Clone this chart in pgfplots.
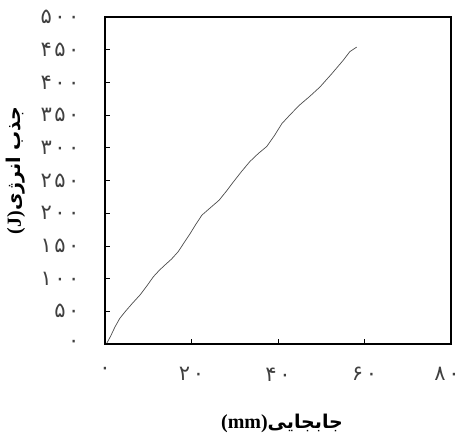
\documentclass[border=0pt]{standalone}
\usepackage{fontspec}
\setmainfont{Liberation Serif}
\newfontfamily\arabicfont[Script=Arabic]{DejaVu Sans}
\newfontfamily\digitfont[LetterSpace=12]{DejaVu Sans}
\TeXXeTstate=1
\usepackage{pgfplots}
\pgfplotsset{compat=1.18}
\begin{document}
\begin{tikzpicture}
\path[use as bounding box] (-105pt,-93pt) rectangle (355pt,344pt);
\begin{axis}[
  at={(0,0)}, anchor=south west,
  scale only axis, width=346pt, height=327pt,
  xmin=0, xmax=80, ymin=0, ymax=500,
  xtick={0,20,40,60,80},
  xticklabels={۰,۲۰,۴۰,۶۰,۸۰\kern8pt},
  ytick={0,50,100,150,200,250,300,350,400,450,500},
  yticklabels={۰,۵۰,۱۰۰,۱۵۰,۲۰۰,۲۵۰,۳۰۰,۳۵۰,۴۰۰,۴۵۰,۵۰۰},
  tick align=inside, tick pos=left,
  major tick length=5pt,
  every tick/.style={black, line width=0.8pt},
  axis line style={line width=1.1pt},
  ticklabel style={font=\digitfont\fontsize{21}{23}\selectfont, text=black!75},
  xticklabel style={yshift=-20pt},
  yticklabel style={xshift=-22pt},
  xlabel={{\bfseries\fontsize{20}{22}\selectfont(mm)}{\arabicfont\bfseries\fontsize{19}{21}\selectfont\beginR جابجایی\endR}},
  ylabel={{\bfseries\fontsize{20}{22}\selectfont(J)}{\arabicfont\bfseries\fontsize{19}{21}\selectfont\beginR جذب انرژی\endR}},
  xlabel style={at={(axis description cs:0.5,0)}, anchor=center, yshift=-79pt, xshift=4pt},
  ylabel style={at={(axis description cs:0,0.5)}, anchor=center, yshift=89pt, xshift=10pt},
]
\addplot[black!70, line width=0.7pt] coordinates {
(0.4,1) (1.3,12) (2.3,26) (3.4,39) (4.6,49) (6.3,62) (8.1,75) (9.7,89) (11.2,103)
(12.6,113) (13.9,121) (15.4,130) (16.9,141) (18.3,155) (19.7,169) (21.0,183) (22.4,197)
(24.3,208) (26.4,220) (28.1,234) (29.7,248) (31.6,264) (33.5,279) (35.4,291) (37.4,302)
(39.2,319) (40.9,337) (43.0,352) (45.1,366) (47.4,379) (49.7,393) (52.4,413) (55.1,434)
(56.6,447) (58.2,454)
};
\end{axis}
\end{tikzpicture}
\end{document}
